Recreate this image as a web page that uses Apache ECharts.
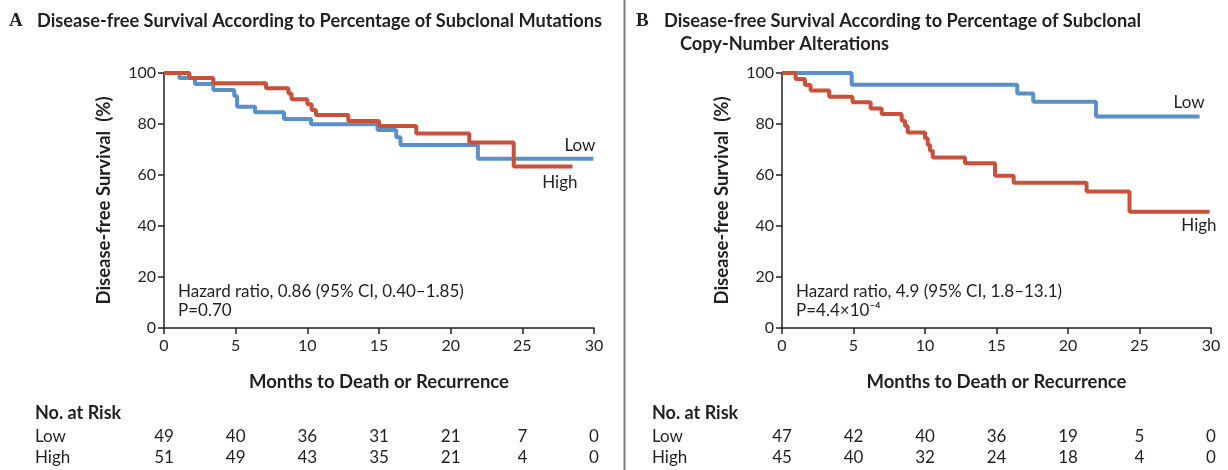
<!DOCTYPE html>
<html><head><meta charset="utf-8">
<script src="https://cdn.jsdelivr.net/npm/echarts@6/dist/echarts.min.js"></script>
<style>html,body{margin:0;padding:0;background:#fff}#c{width:1228px;height:470px}</style>
</head><body><div id="c"></div>
<script>
// ---- data ----
var xTicks = [0, 5, 10, 15, 20, 25, 30];
var yTicks = [0, 20, 40, 60, 80, 100];
// Panel A: subclonal mutations  [months, survival %]
var aLow = [[0,100],[1.07,98],[2.16,95.7],[3.44,93.3],[4.9,91],[5.1,86.8],[6.35,84.6],[8.37,82],[10.26,79.9],[14.9,77.6],[16.2,74.8],[16.5,71.8],[21.9,66.4],[29.96,66.4]];
var aHigh = [[0,100],[1.77,98],[3.44,96],[7.12,94],[8.68,92],[8.9,89.7],[10.0,87.7],[10.3,85.5],[10.6,83.5],[12.86,81.2],[15.0,79.2],[17.6,76.3],[21.3,72.7],[24.4,63.3],[28.5,63.3]];
// Panel B: subclonal copy-number alterations
var bLow = [[0,100],[4.87,95.4],[16.45,92],[17.57,88.7],[21.96,82.9],[29.2,82.9]];
var bHigh = [[0,100],[0.95,97.6],[1.6,95.3],[2.0,93.1],[3.3,90.7],[4.93,88.5],[6.2,86.1],[6.97,83.9],[8.37,81.3],[8.6,79.2],[8.79,76.7],[10.0,74.4],[10.19,71.8],[10.35,69.5],[10.54,66.9],[12.8,64.6],[14.9,59.7],[16.2,57.0],[21.3,53.5],[24.3,45.6],[29.9,45.6]];
var riskA = {Low: [49, 40, 36, 31, 21, 7, 0], High: [51, 49, 43, 35, 21, 4, 0]};
var riskB = {Low: [47, 42, 40, 36, 19, 5, 0], High: [45, 40, 32, 24, 18, 4, 0]};
var titleA = 'Disease-free Survival According to Percentage of Subclonal Mutations';
var titleB1 = 'Disease-free Survival According to Percentage of Subclonal';
var titleB2 = 'Copy-Number Alterations';
var hrA = ['Hazard ratio, 0.86 (95% CI, 0.40\u20131.85)', 'P=0.70'];
var hrB = ['Hazard ratio, 4.9 (95% CI, 1.8\u201313.1)', 'P=4.4\u00d710\u207b\u2074'];

var BLUE = '#5b8fc8', RED = '#c9503a', INK = '#231f20';
var FONT = 'Lato';

function xAx(i) {
  return {gridIndex: i, type: 'value', min: 0, max: 30, interval: 5,
    axisLine: {show: true, onZero: false, lineStyle: {color: INK, width: 1.5}},
    axisTick: {show: true, length: 6, lineStyle: {color: INK, width: 1.5}},
    axisLabel: {color: INK, fontSize: 16, fontFamily: FONT, margin: 10},
    splitLine: {show: false},
    name: 'Months to Death or Recurrence', nameLocation: 'middle', nameGap: 45,
    nameTextStyle: {color: INK, fontSize: 18.5, fontWeight: 'bold', fontFamily: FONT}};
}
function yAx(i) {
  return {gridIndex: i, type: 'value', min: 0, max: 100, interval: 20,
    axisLine: {show: true, lineStyle: {color: INK, width: 1.5}},
    axisTick: {show: true, length: 6, lineStyle: {color: INK, width: 1.5}},
    axisLabel: {color: INK, fontSize: 16, fontFamily: FONT, margin: 8},
    splitLine: {show: false},
    name: 'Disease-free Survival  (%)', nameLocation: 'middle', nameGap: 50, nameRotate: 90,
    nameTextStyle: {color: INK, fontSize: 18.5, fontWeight: 'bold', fontFamily: FONT}};
}
function ser(data, color, i) {
  return {type: 'line', step: 'end', data: data, xAxisIndex: i, yAxisIndex: i,
    showSymbol: false, symbol: 'none', lineStyle: {color: color, width: 4}, z: color === RED ? 3 : 2, animation: false};
}

var chart = echarts.init(document.getElementById('c'), null, {renderer: 'canvas'});
var option = {
  backgroundColor: '#fff',
  animation: false,
  grid: [{left: 164, width: 430, top: 73, height: 255},
         {left: 782, width: 429, top: 73, height: 255}],
  xAxis: [xAx(0), xAx(1)],
  yAxis: [yAx(0), yAx(1)],
  series: [ser(aLow, BLUE, 0), ser(aHigh, RED, 0), ser(bLow, BLUE, 1), ser(bHigh, RED, 1)]
};
chart.setOption(option);

function px(i, x, y) { return chart.convertToPixel({gridIndex: i}, [x, y]); }
function txt(x, y, s, o) {
  o = o || {};
  return {type: 'text', x: x, y: y, style: {text: s, fill: INK, font: (o.bold ? 'bold ' : '') + (o.size || 17) + 'px ' + (o.family || FONT),
    textAlign: o.align || 'left', textVerticalAlign: 'middle'}};
}
var g = [];
g.push({type: 'line', shape: {x1: 624.5, y1: 0, x2: 624.5, y2: 470}, style: {stroke: '#7a7a7a', lineWidth: 2}});
g.push(txt(9, 21, 'A', {bold: true, size: 19, family: 'Liberation Serif'}));
g.push(txt(37, 21, titleA, {bold: true, size: 18.2}));
g.push(txt(636, 21, 'B', {bold: true, size: 19, family: 'Liberation Serif'}));
g.push(txt(664, 21, titleB1, {bold: true, size: 18.2}));
g.push(txt(680, 44, titleB2, {bold: true, size: 18.2}));
g.push(txt(178, 292, hrA[0])); g.push(txt(178, 311, hrA[1]));
g.push(txt(796, 292, hrB[0])); g.push(txt(796, 311, hrB[1]));
// curve labels
var p;
p = px(0, aLow[aLow.length - 1][0], aLow[aLow.length - 1][1]); g.push(txt(p[0] + 2, p[1] - 13, 'Low', {align: 'right'}));
p = px(0, aHigh[aHigh.length - 1][0], aHigh[aHigh.length - 1][1]); g.push(txt(p[0] + 5, p[1] + 16, 'High', {align: 'right'}));
p = px(1, bLow[bLow.length - 1][0], bLow[bLow.length - 1][1]); g.push(txt(p[0] + 5, p[1] - 14, 'Low', {align: 'right'}));
p = px(1, bHigh[bHigh.length - 1][0], bHigh[bHigh.length - 1][1]); g.push(txt(p[0] + 7, p[1] + 14, 'High', {align: 'right'}));
// risk tables
function risk(i, tbl, left) {
  g.push(txt(left, 413, 'No. at Risk', {bold: true, size: 18}));
  g.push(txt(left, 437, 'Low')); g.push(txt(left, 458, 'High'));
  xTicks.forEach(function (t, k) {
    var xx = px(i, t, 0)[0];
    g.push(txt(xx, 437, String(tbl.Low[k]), {align: 'center'}));
    g.push(txt(xx, 458, String(tbl.High[k]), {align: 'center'}));
  });
}
risk(0, riskA, 35);
risk(1, riskB, 652);
chart.setOption({graphic: g});
</script></body></html>
